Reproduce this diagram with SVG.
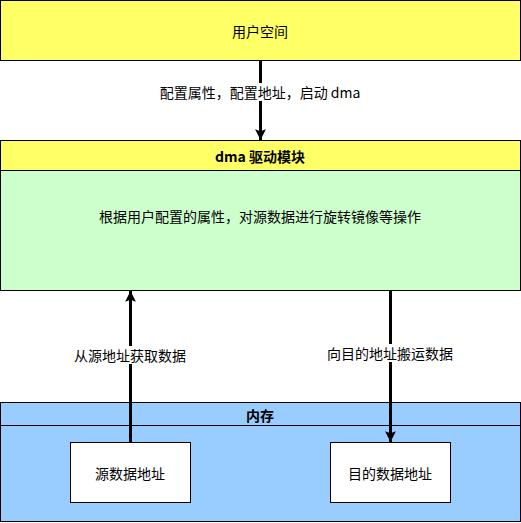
<svg xmlns="http://www.w3.org/2000/svg" width="521" height="523" viewBox="0 0 521 523">
<style>
text{font-family:"Noto Sans CJK SC","Liberation Sans",sans-serif;font-size:14px;fill:#000;text-anchor:middle;dominant-baseline:central}
.b{font-weight:bold}
.box{stroke:#000;stroke-width:1}
.edge{stroke:#000;stroke-width:3;fill:none}
.lbl{fill:#fff}
</style>
<defs>
<marker id="arr" viewBox="0 0 10 10" refX="10" refY="5" markerWidth="3.6" markerHeight="3.6" orient="auto" markerUnits="strokeWidth">
<path d="M0,0 L10,5 L0,10 L2,5 Z" fill="#000"/>
</marker>
</defs>
<g id="user-space">
<rect class="box" x="0.5" y="0.5" width="520" height="60" fill="#ffff66"/>
<text x="260" y="31">用户空间</text>
</g>
<g id="dma-module">
<rect class="box" x="0.5" y="140.5" width="520" height="150" fill="#ccffcc"/>
<rect class="box" x="0.5" y="140.5" width="520" height="30" fill="#ffff66"/>
<text class="b" x="260" y="156">dma 驱动模块</text>
<text x="260" y="216">根据用户配置的属性，对源数据进行旋转镜像等操作</text>
</g>
<g id="memory">
<rect class="box" x="0.5" y="402.5" width="520" height="119" fill="#99ccff"/>
<line class="box" x1="0.5" y1="425.5" x2="520.5" y2="425.5"/>
<text class="b" x="260" y="415">内存</text>
</g>
<g id="src">
<rect class="box" x="70.5" y="442.5" width="120" height="60" fill="#fff"/>
<text x="130" y="473">源数据地址</text>
</g>
<g id="dst">
<rect class="box" x="330.5" y="442.5" width="120" height="60" fill="#fff"/>
<text x="390" y="473">目的数据地址</text>
</g>
<g id="connectors">
<line class="edge" x1="260.5" y1="61" x2="260.5" y2="140" marker-end="url(#arr)"/>
<rect class="lbl" x="158" y="83" width="204" height="18"/>
<text x="260" y="92">配置属性，配置地址，启动 dma</text>
<line class="edge" x1="130.5" y1="442" x2="130.5" y2="291" marker-end="url(#arr)"/>
<rect class="lbl" x="72" y="346" width="116" height="18"/>
<text x="130" y="355">从源地址获取数据</text>
<line class="edge" x1="390.5" y1="291" x2="390.5" y2="442" marker-end="url(#arr)"/>
<rect class="lbl" x="333" y="344" width="128" height="18"/>
<text x="390" y="353">向目的地址搬运数据</text>
</g>
</svg>
